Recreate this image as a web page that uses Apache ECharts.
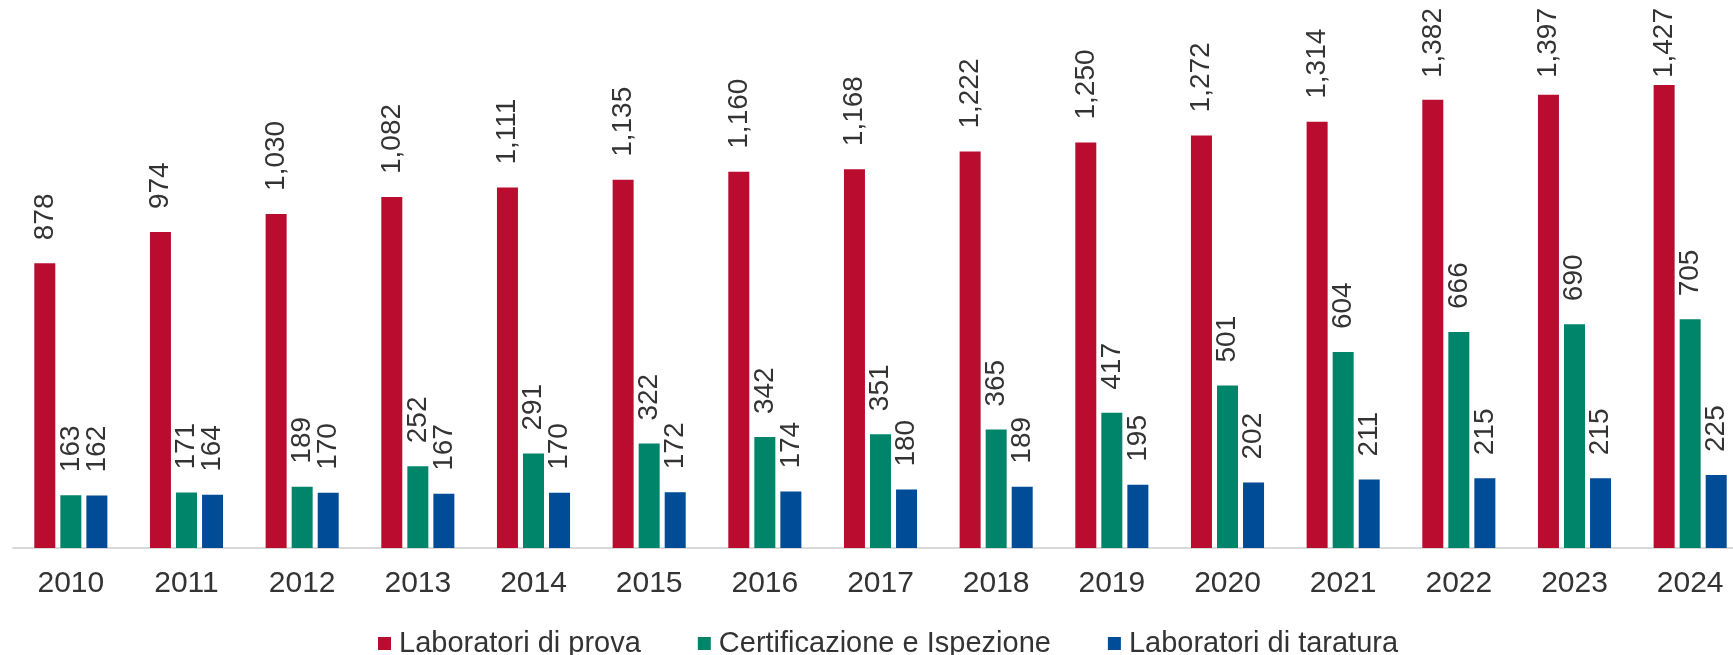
<!DOCTYPE html>
<html>
<head>
<meta charset="utf-8">
<script src="https://cdn.jsdelivr.net/npm/echarts@6/dist/echarts.min.js"></script>
<style>
	html, body { margin: 0; padding: 0; background: #fff; }
	#chart { width: 1733px; height: 655px; }
</style>
</head>
<body>
<div id="chart"></div>
<script>
let years = ['2010', '2011', '2012', '2013', '2014', '2015', '2016', '2017', '2018', '2019', '2020', '2021', '2022', '2023', '2024'];
let prova = [878, 974, 1030, 1082, 1111, 1135, 1160, 1168, 1222, 1250, 1272, 1314, 1382, 1397, 1427];
let certificazione = [163, 171, 189, 252, 291, 322, 342, 351, 365, 417, 501, 604, 666, 690, 705];
let taratura = [162, 164, 170, 167, 170, 172, 174, 180, 189, 195, 202, 211, 215, 215, 225];

let seriesNames = ['Laboratori di prova', 'Certificazione e Ispezione', 'Laboratori di taratura'];
let colors = ['#BA0C2F', '#00846A', '#004C97'];
let font = '"Liberation Sans", Arial, sans-serif';
let labelSize = 28;
let labelDistance = 23;

let myChart = echarts.init(document.getElementById('chart'));

function fmt(v) {
	return v.toLocaleString('en-US');
}

function makeSeries(name, data, color) {
	return {
		name: name,
		type: 'bar',
		data: data,
		barWidth: 21,
		barGap: '24%',
		itemStyle: { color: color },
		label: {
			show: true,
			position: 'top',
			rotate: 90,
			align: 'left',
			verticalAlign: 'middle',
			distance: labelDistance,
			fontSize: labelSize,
			fontFamily: font,
			color: '#333',
			formatter: function(p) {
				return fmt(p.value);
			}
		}
	};
}

let allData = [prova, certificazione, taratura];

let option = {
	animation: false,
	color: colors,
	grid: {
		left: 13,
		width: 1735,
		top: 29,
		bottom: 107,
		outerBoundsMode: 'none'
	},
	legend: {
		data: seriesNames,
		top: 624,
		left: 373,
		itemWidth: 13,
		itemHeight: 13,
		itemGap: 57,
		icon: 'rect',
		textStyle: {
			fontSize: 29,
			fontFamily: font,
			color: '#333',
			padding: [0, 0, 0, 3]
		}
	},
	xAxis: {
		type: 'category',
		data: years,
		axisLine: { lineStyle: { color: '#d9d9d9', width: 2 } },
		axisTick: { show: false },
		axisLabel: {
			fontSize: 30,
			fontFamily: font,
			color: '#333',
			margin: 21
		}
	},
	yAxis: {
		type: 'value',
		min: 0,
		max: 1600,
		show: false,
		splitLine: { show: false }
	},
	series: allData.map(function(d, i) {
		return makeSeries(seriesNames[i], d, colors[i]);
	})
};

myChart.setOption(option);

// le etichette che escono dal bordo superiore vengono avvicinate alla barra
let ctx = document.createElement('canvas').getContext('2d');
ctx.font = labelSize + 'px ' + font;
let newSeries = allData.map(function(d) {
	return {
		data: d.map(function(v, j) {
			let top = myChart.convertToPixel({ gridIndex: 0 }, [j, v])[1];
			let len = ctx.measureText(fmt(v)).width;
			let end = top - labelDistance - len;
			if (end < 8) {
				return { value: v, label: { distance: labelDistance - (8 - end) } };
			}
			return v;
		})
	};
});
myChart.setOption({ series: newSeries });
</script>
</body>
</html>
